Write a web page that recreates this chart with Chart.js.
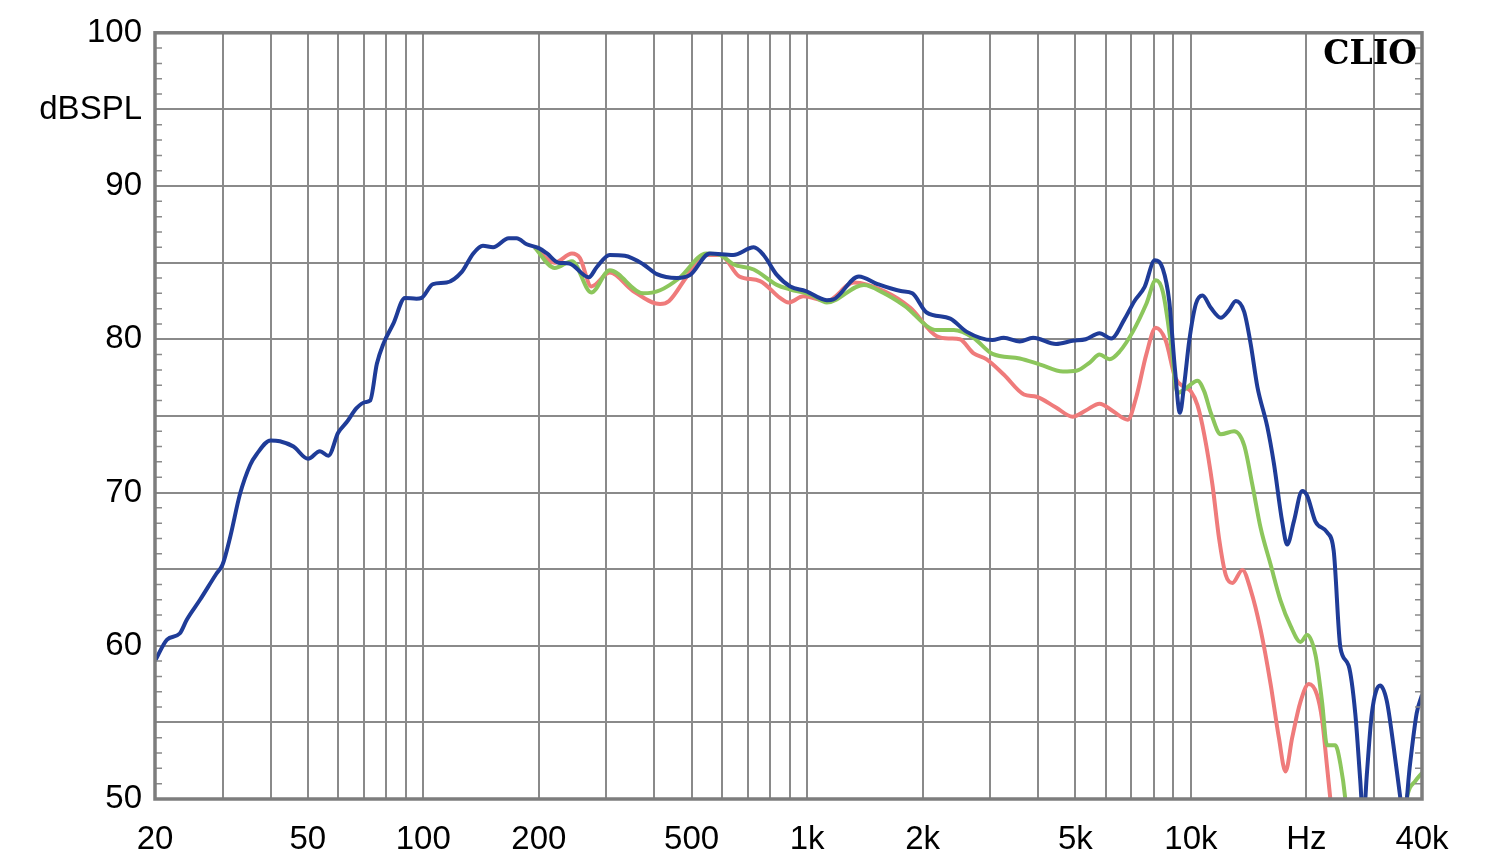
<!DOCTYPE html>
<html lang="en">
<head>
  <meta charset="UTF-8" />
  <title>CLIO - dBSPL vs Hz</title>
  <style>
    html, body { margin: 0; padding: 0; background: #ffffff; }
    #wrap { width: 1500px; height: 864px; }
  </style>
</head>
<body>
  <div id="wrap"><canvas id="chart" width="1500" height="864"></canvas></div>

  <script src="https://cdn.jsdelivr.net/npm/chart.js@4"></script>
  <script>
    // blue (on axis)
    const blueHz = [20, 21.5, 23.2, 24.2, 26.2, 28.9, 30, 31.4, 33.3, 35.4, 36.8, 40, 42.3, 45.9, 50.1, 53.8, 56.6, 60, 63.2, 67, 70.6, 72.7, 75.7, 78.7, 83.5, 89.6, 96, 99,
      106, 115, 126, 135, 143, 152, 167, 175, 186, 200, 210, 225, 240, 270, 283, 306, 335, 374, 406, 458, 496, 558, 642, 726, 770, 834, 904, 992,
      1126, 1171, 1364, 1526, 1754, 1880, 2048, 2360, 2600, 3040, 3253, 3581, 3880, 4452, 4916, 5320, 5780, 6200, 6710, 7130, 7570, 8050, 8450, 8780, 9090, 9360, 9610, 9900,
      10300, 10720, 11270, 11960, 12570, 13090, 13760, 14310, 14900, 15810, 16450, 17290, 17820, 18540, 19490, 20080, 21110, 22630, 23550, 24510, 25760, 26800, 27620, 28130, 28730,
      29610, 31120, 32380, 33700, 35070, 35800, 37240, 38750, 40000];
    const blueDb = [59.0, 60.4, 60.8, 61.7, 63.0, 64.7, 65.3, 67.1, 69.9, 71.8, 72.5, 73.4, 73.35, 73.0, 72.2, 72.7, 72.4, 73.9, 74.6, 75.5, 75.9, 76.0, 78.4, 79.7, 81.0, 82.7, 82.65, 82.7,
      83.6, 83.7, 84.4, 85.6, 86.1, 86.0, 86.6, 86.6, 86.2, 85.95, 85.6, 85.0, 84.95, 84.05, 84.7, 85.5, 85.45, 84.9, 84.25, 84.0, 84.2, 85.6, 85.5, 86.0, 85.5, 84.2, 83.45, 83.15,
      82.55, 82.6, 84.1, 83.6, 83.15, 83.0, 81.75, 81.35, 80.5, 79.95, 80.1, 79.85, 80.1, 79.7, 79.9, 80.0, 80.4, 80.05, 81.3, 82.5, 83.4, 85.15, 84.6, 82.5, 78.0, 75.2, 77.1, 79.9,
      82.3, 82.85, 82.05, 81.4, 81.9, 82.5, 81.8, 79.7, 76.9, 74.3, 71.9, 68.1, 66.6, 68.1, 70.1, 69.8, 68.1, 67.4, 66.2, 59.9, 58.7, 55.6, 51.2, 48.5, 51.6,
      55.6, 57.4, 56.4, 53.5, 50.2, 48.5, 52.3, 55.6, 56.8];

    // green (off axis 1)
    const greenHz = [195, 220, 244, 274, 306, 374, 414, 465, 546, 594, 642, 726, 834, 904, 1024, 1126, 1406, 1586, 1790, 2178, 2410, 2710, 3040, 3581, 4048, 4640, 5030, 5460, 5780,
      6140, 6520, 7060, 7650, 8100, 8450, 8850, 9230, 9700, 10400, 10830, 11270, 11960, 12960, 13760, 14460, 15190, 16130, 17120, 18180, 19300, 20080, 21110, 21960, 22630,
      23780, 24510, 25250, 26000, 35000, 36500, 38500, 40000];
    const greenDb = [86.0, 84.65, 85.1, 83.05, 84.5, 83.0, 83.2, 84.0, 85.6, 85.5, 84.9, 84.55, 83.55, 83.25, 82.9, 82.4, 83.55, 83.0, 82.2, 80.6, 80.6, 80.1, 79.05, 78.75, 78.35, 77.9, 77.95, 78.5, 79.0,
      78.7, 79.2, 80.5, 82.3, 83.85, 83.1, 79.9, 76.5, 76.8, 77.3, 76.6, 75.2, 73.8, 74.0, 73.1, 70.5, 67.7, 65.3, 62.95, 61.3, 60.25, 60.7, 59.4, 56.35, 53.5,
      53.5, 52.3, 50.0, 46, 46, 50.0, 51.2, 51.7];

    // red (off axis 2)
    const redHz = [195, 220, 244, 256, 274, 306, 352, 414, 437, 486, 537, 594, 666, 754, 850, 894, 978, 1126, 1324, 1586, 1858, 2178, 2360, 2500, 2710, 2930, 3253, 3672, 3960,
      4452, 4916, 5320, 5780, 6270, 6850, 7200, 7650, 8100, 8600, 9100, 9600, 10000, 10400, 10830, 11380, 11840, 12330, 12830, 13620, 14310, 15190, 16130, 16950, 17640,
      18360, 19300, 20280, 21310, 21960, 22630, 23300, 24000];
    const redDb = [86.0, 85.0, 85.6, 85.3, 83.45, 84.35, 83.15, 82.3, 82.5, 84.1, 85.5, 85.5, 84.1, 83.8, 82.7, 82.4, 82.8, 82.5, 83.7, 83.15, 82.05, 80.2, 80.05, 80.0, 79.1, 78.7, 77.7, 76.4, 76.25,
      75.55, 74.95, 75.35, 75.8, 75.3, 74.75, 76.2, 79.0, 80.75, 79.9, 77.5, 76.9, 76.6, 75.7, 73.8, 70.5, 67.0, 64.6, 64.1, 64.95, 63.65, 61.05, 57.5, 54.0, 51.8,
      54.0, 56.35, 57.5, 56.8, 55.2, 52.1, 49.0, 46];

    // axis ticks
    const xGrid = [20, 30, 40, 50, 60, 70, 80, 90, 100, 200, 300, 400, 500, 600, 700, 800, 900,
      1000, 2000, 3000, 4000, 5000, 6000, 7000, 8000, 9000, 10000, 20000, 30000, 40000];
    const xLabels = { 20: '20', 50: '50', 100: '100', 200: '200', 500: '500', 1000: '1k', 2000: '2k',
      5000: '5k', 10000: '10k', 20000: 'Hz', 40000: '40k' };
    const yLabels = { 100: '100', 95: 'dBSPL', 90: '90', 80: '80', 70: '70', 60: '60', 50: '50' };

    const toPoints = (hz, db) => hz.map((f, i) => ({ x: f, y: db[i] }));
    const labelFont = { family: "'Liberation Sans', Arial, sans-serif", size: 33 };
    const gridGray = '#8a8a8a';

    // frame, 1 dB ticks and the CLIO mark
    const framePlugin = {
      id: 'frame',
      afterDatasetsDraw(chart) {
        const { ctx, chartArea: a, scales: { y } } = chart;
        ctx.save();
        ctx.strokeStyle = gridGray;
        ctx.lineWidth = 1.5;
        ctx.beginPath();
        for (let v = 51; v < 100; v++) {
          if (v % 5 === 0) continue;
          const py = y.getPixelForValue(v);
          ctx.moveTo(a.left, py); ctx.lineTo(a.left + 7, py);
          ctx.moveTo(a.right - 7, py); ctx.lineTo(a.right, py);
        }
        ctx.stroke();
        ctx.strokeStyle = '#7d7d7d';
        ctx.lineWidth = 3.5;
        ctx.strokeRect(a.left, a.top, a.right - a.left, a.bottom - a.top);
        ctx.fillStyle = '#000';
        ctx.font = "bold 33px 'DejaVu Serif', serif";
        ctx.textAlign = 'right';
        ctx.textBaseline = 'alphabetic';
        ctx.fillText('CLIO', a.right - 5, a.top + 31);
        ctx.restore();
      }
    };

    const line = (hz, db, color) => ({
      data: toPoints(hz, db),
      borderColor: color,
      borderWidth: 4,
      pointRadius: 0,
      fill: false,
      cubicInterpolationMode: 'monotone',
      clip: 0
    });

    new Chart(document.getElementById('chart').getContext('2d'), {
      type: 'line',
      data: {
        datasets: [
          line(blueHz, blueDb, '#1f3c98'),
          line(greenHz, greenDb, '#8cc65c'),
          line(redHz, redDb, '#ef7b7b')
        ]
      },
      options: {
        responsive: false,
        animation: false,
        devicePixelRatio: 1,
        layout: { padding: { top: 31, right: 78, left: 0, bottom: 0 } },
        plugins: { legend: { display: false }, tooltip: { enabled: false } },
        scales: {
          x: {
            type: 'logarithmic',
            min: 20,
            max: 40000,
            afterBuildTicks: s => { s.ticks = xGrid.map(v => ({ value: v })); },
            afterFit: s => { s.height = 65; },
            ticks: {
              autoSkip: false,
              maxRotation: 0,
              padding: 21,
              color: '#000',
              font: labelFont,
              callback: v => xLabels[v] ?? ''
            },
            grid: { color: gridGray, lineWidth: 2, drawTicks: false },
            border: { display: false }
          },
          y: {
            min: 50,
            max: 100,
            afterFit: s => { s.width = 155; },
            ticks: {
              stepSize: 5,
              padding: 13,
              color: '#000',
              font: labelFont,
              callback: v => yLabels[v] ?? ''
            },
            grid: { color: gridGray, lineWidth: 2, drawTicks: false },
            border: { display: false }
          }
        }
      },
      plugins: [framePlugin]
    });
  </script>
</body>
</html>
